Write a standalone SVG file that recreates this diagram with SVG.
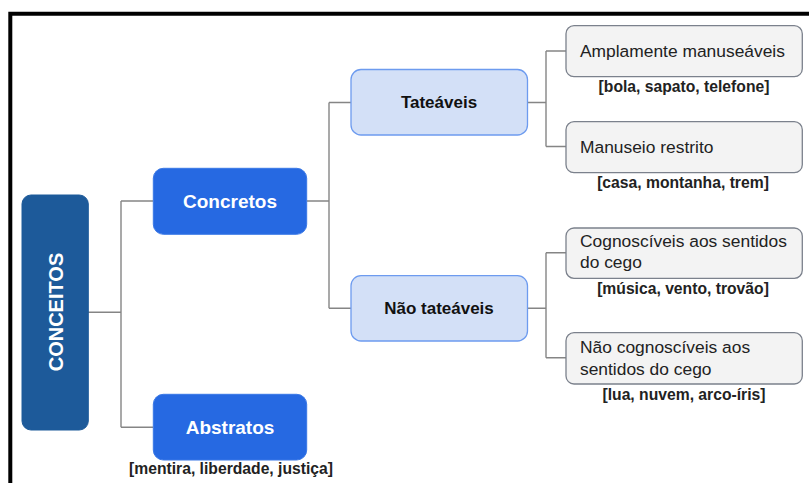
<svg xmlns="http://www.w3.org/2000/svg" width="809" height="483" viewBox="0 0 809 483">
<style>
text{font-family:"Liberation Sans",Arial,Helvetica,sans-serif}
.root{fill:#1d5a9a;stroke:#1d5a9a;stroke-width:1}
.cat{fill:#2669e2;stroke:#3a78e6;stroke-width:1}
.sub{fill:#d3e0f7;stroke:#6d9bef;stroke-width:1.3}
.leaf{fill:#f3f3f3;stroke:#7b818c;stroke-width:1.3}
.wt{fill:#ffffff;font-weight:bold;font-size:19px;text-anchor:middle}
.bt{fill:#111111;font-weight:bold;font-size:17px;text-anchor:middle}
.lt{fill:#222222;font-size:17.4px}
.ex{fill:#222222;font-weight:bold;font-size:15.7px;text-anchor:middle}
.conn{fill:none;stroke:#858585;stroke-width:1.4}
</style>
<rect x="0" y="0" width="809" height="483" fill="#ffffff"/>
<path d="M10.3 483 V13.7 H809" fill="none" stroke="#000000" stroke-width="4" stroke-linejoin="miter"/>
<g id="connectors">
<path class="conn" d="M88 312.3 H121 M121 201 V427.3 M121 201 H153 M121 427.3 H153"/>
<path class="conn" d="M307 201 H329 M329 102.5 V308.3 M329 102.5 H351 M329 308.3 H351"/>
<path class="conn" d="M527.5 102.5 H546 M546 51 V146.5 M546 51 H566 M546 146.5 H566"/>
<path class="conn" d="M527.5 308.3 H546 M546 252.7 V357.7 M546 252.7 H566 M546 357.7 H566"/>
</g>
<g id="conceitos">
<rect class="root" x="22" y="195" width="66.3" height="235" rx="9"/>
<text class="wt" transform="translate(63,312) rotate(-90)" style="font-size:20px">CONCEITOS</text>
</g>
<g id="concretos">
<rect class="cat" x="153.3" y="168.3" width="153.4" height="66" rx="10"/>
<text class="wt" x="230" y="208">Concretos</text>
</g>
<g id="abstratos">
<rect class="cat" x="153.3" y="394.3" width="153.4" height="65.7" rx="10"/>
<text class="wt" x="230" y="434">Abstratos</text>
<text class="ex" x="231" y="474">[mentira, liberdade, justiça]</text>
</g>
<g id="tateaveis">
<rect class="sub" x="351" y="69.5" width="176.5" height="65.5" rx="10"/>
<text class="bt" x="439" y="108.3">Tateáveis</text>
</g>
<g id="nao-tateaveis">
<rect class="sub" x="351" y="275.7" width="176.5" height="65.3" rx="10"/>
<text class="bt" x="439" y="314.3">Não tateáveis</text>
</g>
<g id="amplamente">
<rect class="leaf" x="566" y="25.7" width="236.3" height="51" rx="8"/>
<text class="lt" x="580" y="57.3">Amplamente manuseáveis</text>
<text class="ex" x="684" y="91.7">[bola, sapato, telefone]</text>
</g>
<g id="manuseio">
<rect class="leaf" x="566" y="121.7" width="236.3" height="51" rx="8"/>
<text class="lt" x="580" y="153.3">Manuseio restrito</text>
<text class="ex" x="683" y="188">[casa, montanha, trem]</text>
</g>
<g id="cognosciveis">
<rect class="leaf" x="566" y="228" width="236.3" height="50.3" rx="8"/>
<text class="lt" x="580" y="246.7">Cognoscíveis aos sentidos</text>
<text class="lt" x="580" y="268.3">do cego</text>
<text class="ex" x="683" y="294">[música, vento, trovão]</text>
</g>
<g id="nao-cognosciveis">
<rect class="leaf" x="566" y="332.7" width="236.3" height="51.3" rx="8"/>
<text class="lt" x="580" y="353.3">Não cognoscíveis aos</text>
<text class="lt" x="580" y="374.5">sentidos do cego</text>
<text class="ex" x="684" y="399.5">[lua, nuvem, arco-íris]</text>
</g>
</svg>
